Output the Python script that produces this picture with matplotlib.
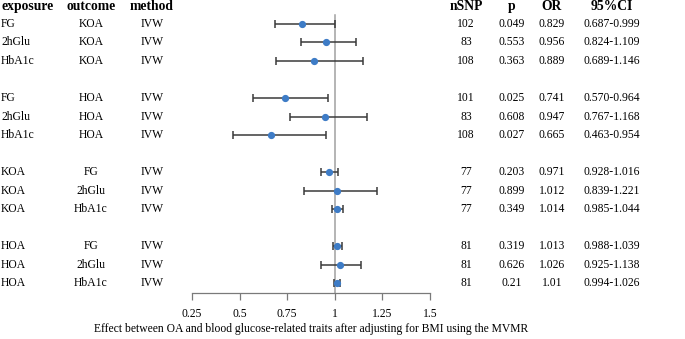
import matplotlib

matplotlib.use("Agg")
import matplotlib.pyplot as plt
import matplotlib.transforms as mtransforms

plt.rcParams["font.family"] = ["Liberation Serif", "DejaVu Serif"]

# table / forest data (rows in display order, None = blank spacer row)
exposure = ["FG", "2hGlu", "HbA1c", None, "FG", "2hGlu", "HbA1c", None,
            "KOA", "KOA", "KOA", None, "HOA", "HOA", "HOA"]
outcome = ["KOA", "KOA", "KOA", None, "HOA", "HOA", "HOA", None,
           "FG", "2hGlu", "HbA1c", None, "FG", "2hGlu", "HbA1c"]
method = ["IVW", "IVW", "IVW", None, "IVW", "IVW", "IVW", None,
          "IVW", "IVW", "IVW", None, "IVW", "IVW", "IVW"]
nsnp = ["102", "83", "108", None, "101", "83", "108", None,
        "77", "77", "77", None, "81", "81", "81"]
pval = ["0.049", "0.553", "0.363", None, "0.025", "0.608", "0.027", None,
        "0.203", "0.899", "0.349", None, "0.319", "0.626", "0.21"]
odds = [0.829, 0.956, 0.889, None, 0.741, 0.947, 0.665, None,
        0.971, 1.012, 1.014, None, 1.013, 1.026, 1.01]
or_text = ["0.829", "0.956", "0.889", None, "0.741", "0.947", "0.665", None,
           "0.971", "1.012", "1.014", None, "1.013", "1.026", "1.01"]
ci_low = [0.687, 0.824, 0.689, None, 0.570, 0.767, 0.463, None,
          0.928, 0.839, 0.985, None, 0.988, 0.925, 0.994]
ci_high = [0.999, 1.109, 1.146, None, 0.964, 1.168, 0.954, None,
           1.016, 1.221, 1.044, None, 1.039, 1.138, 1.026]
ci_text = ["0.687-0.999", "0.824-1.109", "0.689-1.146", None,
           "0.570-0.964", "0.767-1.168", "0.463-0.954", None,
           "0.928-1.016", "0.839-1.221", "0.985-1.044", None,
           "0.988-1.039", "0.925-1.138", "0.994-1.026"]
xticks = [0.25, 0.5, 0.75, 1, 1.25, 1.5]
xtick_labels = ["0.25", "0.5", "0.75", "1", "1.25", "1.5"]
xlabel = "Effect between OA and blood glucose-related traits after adjusting for BMI using the MVMR"

W, H = 685, 339
FS = 8.4
HFS = 9.8
fig = plt.figure(figsize=(W / 100, H / 100), dpi=100)
ax = fig.add_axes([192 / W, 46 / H, 238 / W, 293 / H])
ax.set_xlim(0.25, 1.5)
ybottom = 14.54
ax.set_ylim(ybottom, -1.297)

# reference line at OR = 1
ax.plot([1, 1], [-0.5, ybottom], color="#a0a0a0", linewidth=1.1, zorder=1)

for i, o in enumerate(odds):
    if o is None:
        continue
    ax.errorbar(o, i, xerr=[[o - ci_low[i]], [ci_high[i] - o]], fmt="o",
                color="#3e7cc6", markersize=4.2, ecolor="#3a3a3a",
                elinewidth=1.1, capsize=3.2, capthick=1.1, zorder=3)

for side in ("left", "top", "right"):
    ax.spines[side].set_visible(False)
ax.spines["bottom"].set_color("#7a7a7a")
ax.spines["bottom"].set_linewidth(0.9)
ax.set_yticks([])
ax.set_xticks(xticks)
ax.set_xticklabels(xtick_labels, fontsize=FS)
ax.tick_params(axis="x", length=5, width=0.9, color="#7a7a7a", pad=5.5)
ax.set_xlabel(xlabel, fontsize=FS, labelpad=2.5)

# table columns: figure-x, data-y
trans = mtransforms.blended_transform_factory(fig.transFigure, ax.transData)
columns = [
    ("exposure", exposure, 1 / W, "left"),
    ("outcome", outcome, 91 / W, "center"),
    ("method", method, 152 / W, "center"),
    ("nSNP", nsnp, 466 / W, "center"),
    ("p", pval, 512 / W, "center"),
    ("OR", or_text, 552 / W, "center"),
    ("95%CI", ci_text, 612 / W, "center"),
]
for head, values, x, ha in columns:
    ax.text(x, -0.92, head, transform=trans, ha=ha, va="center",
            fontsize=HFS, fontweight="bold", clip_on=False)
    for i, v in enumerate(values):
        if v is None:
            continue
        ax.text(x, i, v, transform=trans, ha=ha, va="center",
                fontsize=FS, clip_on=False)

fig.savefig("out.png", dpi=100)
